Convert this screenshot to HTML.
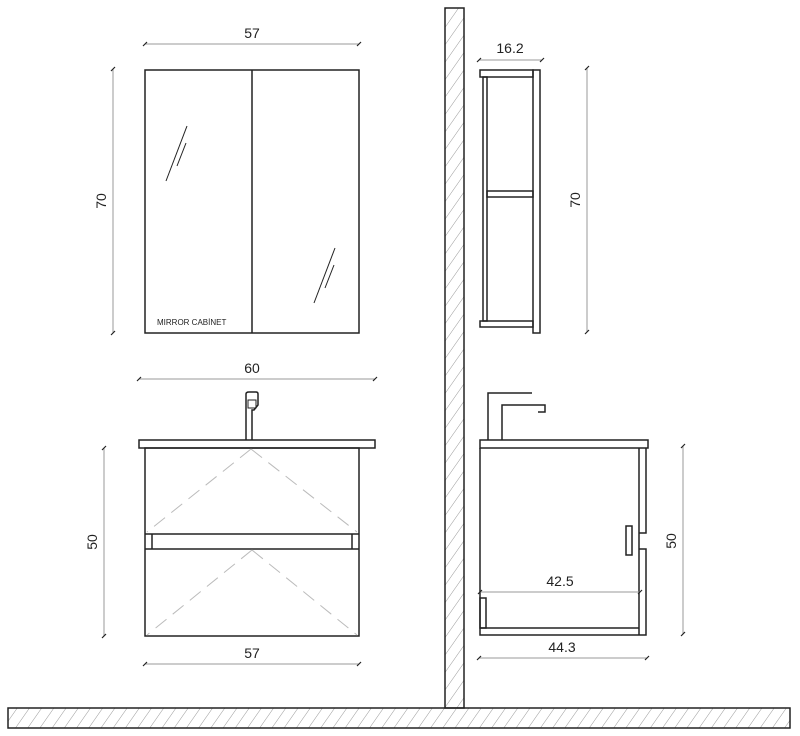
<!DOCTYPE html>
<html><head><meta charset="utf-8"><style>
html,body{margin:0;padding:0;background:#fff;}
svg{display:block;}
text{font-family:"Liberation Sans",sans-serif;fill:#222;}
</style></head><body>
<svg width="800" height="736" viewBox="0 0 800 736" xmlns="http://www.w3.org/2000/svg">
<defs>
<pattern id="h" width="10" height="10" patternUnits="userSpaceOnUse" patternTransform="rotate(35)">
<line x1="0" y1="0" x2="0" y2="10" stroke="#999" stroke-width="1"/>
</pattern>
</defs>
<g stroke="#222" fill="none" stroke-width="1.5">
<!-- wall -->
<rect x="445" y="8" width="19" height="700" fill="url(#h)"/>
<rect x="8" y="708" width="782" height="20" fill="url(#h)"/>

<!-- mirror cabinet -->
<rect x="145" y="70" width="214" height="263"/>
<line x1="252" y1="70" x2="252" y2="333"/>
<g stroke-width="1">
<line x1="187" y1="126" x2="166" y2="181"/>
<line x1="186" y1="143" x2="177" y2="166"/>
<line x1="335" y1="248" x2="314" y2="303"/>
<line x1="334" y1="265" x2="325" y2="288"/>
</g>

<!-- vanity front -->
<rect x="139" y="440" width="236" height="8"/>
<rect x="145" y="448" width="214" height="188"/>
<line x1="145" y1="534" x2="359" y2="534"/>
<line x1="145" y1="549" x2="359" y2="549"/>
<line x1="152" y1="534" x2="152" y2="549"/>
<line x1="352" y1="534" x2="352" y2="549"/>
<path d="M246,440 V405 L246,394 Q246,392 249,392 H256 Q258,392 258,394 V405 L254,410 H252 V440"/>
<rect x="248" y="400" width="8" height="8" stroke-width="1"/>
<g stroke="#bbb" stroke-width="1" stroke-dasharray="14,8">
<line x1="251" y1="449" x2="147" y2="532"/>
<line x1="251" y1="449" x2="357" y2="532"/>
<line x1="252" y1="550" x2="147" y2="635"/>
<line x1="252" y1="550" x2="357" y2="635"/>
</g>

<!-- side shelf -->
<rect x="480" y="70" width="53" height="7"/>
<rect x="533" y="70" width="7" height="263"/>
<rect x="483" y="77" width="4" height="244"/>
<rect x="487" y="191" width="46" height="6"/>
<rect x="480" y="321" width="53" height="6"/>

<!-- side vanity -->
<path d="M488,440 V393 H532 M502,440 V405 H545 V412 H538"/>
<rect x="480" y="440" width="168" height="8"/>
<path d="M480,448 V635 H646 V549 H639 M639,533 H646 V448"/>
<line x1="639" y1="448" x2="639" y2="635"/>
<line x1="480" y1="628" x2="639" y2="628"/>
<rect x="480" y="598" width="6" height="30"/>
<rect x="626" y="526" width="6" height="29"/>
</g>

<!-- dimension lines -->
<g stroke="#999" stroke-width="1">
<line x1="145" y1="44" x2="359" y2="44"/>
<line x1="113" y1="69" x2="113" y2="333"/>
<line x1="139" y1="379" x2="375" y2="379"/>
<line x1="104" y1="448" x2="104" y2="636"/>
<line x1="145" y1="664" x2="359" y2="664"/>
<line x1="479" y1="60" x2="542" y2="60"/>
<line x1="587" y1="68" x2="587" y2="332"/>
<line x1="480" y1="592" x2="640" y2="592"/>
<line x1="479" y1="658" x2="647" y2="658"/>
<line x1="683" y1="446" x2="683" y2="634"/>
</g>
<g stroke="#222" stroke-width="1.2">
<path d="M143,46 l4,-4 M357,46 l4,-4 M111,71 l4,-4 M111,335 l4,-4 M137,381 l4,-4 M373,381 l4,-4 M102,450 l4,-4 M102,638 l4,-4 M143,666 l4,-4 M357,666 l4,-4 M477,62 l4,-4 M540,62 l4,-4 M585,70 l4,-4 M585,334 l4,-4 M478,594 l4,-4 M638,594 l4,-4 M477,660 l4,-4 M645,660 l4,-4 M681,448 l4,-4 M681,636 l4,-4"/>
</g>

<g font-size="14" text-anchor="middle">
<text x="252" y="38">57</text>
<text x="252" y="373">60</text>
<text x="252" y="658">57</text>
<text x="510" y="53">16.2</text>
<text x="560" y="586">42.5</text>
<text x="562" y="652">44.3</text>
<text transform="translate(106,201) rotate(-90)">70</text>
<text transform="translate(97,542) rotate(-90)">50</text>
<text transform="translate(580,200) rotate(-90)">70</text>
<text transform="translate(676,541) rotate(-90)">50</text>
</g>
<text x="157" y="325" font-size="8">MIRROR CABİNET</text>
</svg>
</body></html>
